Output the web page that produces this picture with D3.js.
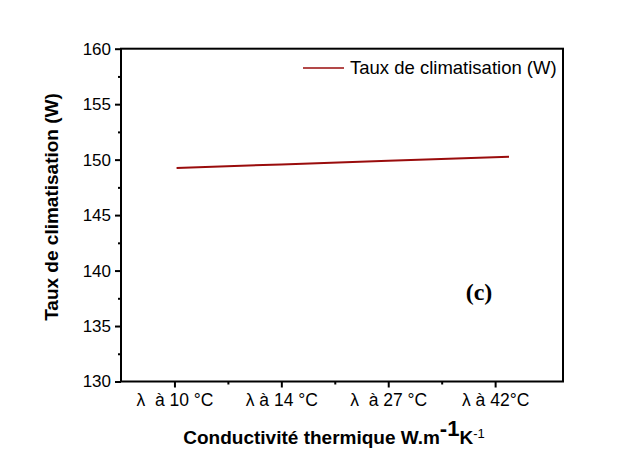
<!DOCTYPE html>
<html><head><meta charset="utf-8">
<script src="https://cdn.jsdelivr.net/npm/d3@7"></script>
<style>body{margin:0;background:#fff}svg{display:block}</style>
</head><body>
<svg id="c" width="640" height="453"></svg>
<script>
const categories = ["λ  à 10 °C", "λ à 14 °C", "λ  à 27 °C", "λ à 42°C"];
const seriesX = [1.02, 2, 3, 4.13];
const seriesY = [149.25, 149.57, 149.89, 150.27];
const yTicks = [130, 135, 140, 145, 150, 155, 160];
const seriesName = "Taux de climatisation (W)";

const SANS = "'Liberation Sans', Arial, sans-serif";
const SERIF = "'Liberation Serif', 'Times New Roman', serif";
const svg = d3.select("#c");
const L = 121, R = 563, T = 48.7, B = 381.5;
const x = d3.scaleLinear().domain([0.5, 4.635]).range([L, R]);
const y = d3.scaleLinear().domain([130, 160]).range([B, T]);

// frame
svg.append("rect").attr("x", L).attr("y", T).attr("width", R - L).attr("height", B - T)
  .attr("fill", "none").attr("stroke", "#000").attr("stroke-width", 2);

// y axis
const yAx = svg.append("g").attr("transform", `translate(${L},0)`)
  .call(d3.axisLeft(y).tickValues(yTicks).tickSize(6).tickPadding(4));
const yMin = svg.append("g").attr("transform", `translate(${L},0)`)
  .call(d3.axisLeft(y).tickValues(yTicks.slice(0, -1).map(v => v + 2.5)).tickSize(3).tickFormat(""));
// x axis
const xAx = svg.append("g").attr("transform", `translate(0,${B})`)
  .call(d3.axisBottom(x).tickValues(d3.range(1, categories.length + 1)).tickSize(6).tickPadding(6)
    .tickFormat(d => categories[d - 1]));
const xMin = svg.append("g").attr("transform", `translate(0,${B})`)
  .call(d3.axisBottom(x).tickValues([1.5, 2.5, 3.5]).tickSize(3).tickFormat(""));
[yAx, yMin, xAx, xMin].forEach(g => {
  g.select(".domain").remove();
  g.selectAll("line").attr("stroke", "#000").attr("stroke-width", 2);
  g.selectAll("text").style("font-family", SANS)
    .style("font-size", "17px").attr("fill", "#000");
});
xAx.selectAll("text").style("font-size", "17.5px").style("white-space", "pre");

// line
const pts = seriesX.map((v, i) => [v, seriesY[i]]);
svg.append("path").datum(pts)
  .attr("d", d3.line().x(d => x(d[0])).y(d => y(d[1])))
  .attr("fill", "none").attr("stroke", "#9a0c0c").attr("stroke-width", 2);

// legend
svg.append("line").attr("x1", 303).attr("x2", 344).attr("y1", 68).attr("y2", 68)
  .attr("stroke", "#9a0c0c").attr("stroke-width", 1.5);
svg.append("text").attr("x", 350).attr("y", 74).text(seriesName)
  .style("font-family", SANS).style("font-size", "18.5px");

// (c)
svg.append("text").attr("x", 479).attr("y", 300).attr("text-anchor", "middle").text("(c)")
  .style("font-family", SERIF).style("font-weight", "bold").style("font-size", "24px");

// y title
svg.append("text").attr("transform", `translate(58,207) rotate(-90)`).attr("text-anchor", "middle")
  .text("Taux de climatisation (W)")
  .style("font-family", SANS).style("font-weight", "bold").style("font-size", "19px");

// x title
const xt = svg.append("text").attr("x", 334).attr("y", 444).attr("text-anchor", "middle")
  .style("font-family", SANS).style("font-weight", "bold").style("font-size", "19px");
xt.append("tspan").text("Conductivité thermique W.m");
xt.append("tspan").attr("dy", -8).style("font-size", "22px").text("-1");
xt.append("tspan").attr("dy", 8).text("K");
xt.append("tspan").attr("dy", -6).style("font-size", "13px").style("font-weight", "normal").text("-1");
</script>
</body></html>
